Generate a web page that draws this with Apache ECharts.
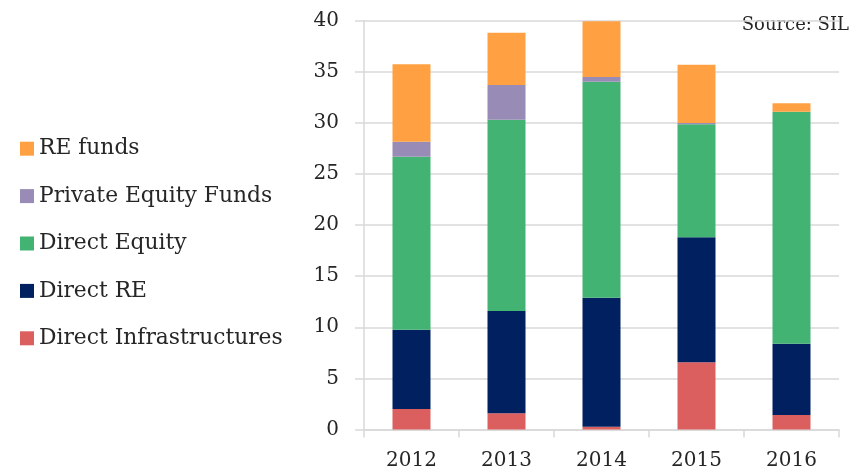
<!DOCTYPE html>
<html>
<head>
<meta charset="utf-8">
<script src="https://cdn.jsdelivr.net/npm/echarts@6/dist/echarts.min.js"></script>
<style>
  html, body { margin: 0; padding: 0; background: #fff; }
  #chart { width: 862px; height: 473px; }
</style>
</head>
<body>
<div id="chart"></div>
<script>
const years = ['2012', '2013', '2014', '2015', '2016']
const directInfra = [2.0, 1.6, 0.27, 6.57, 1.42]
const directRE = [7.76, 10.0, 12.62, 12.23, 6.97]
const directEquity = [16.92, 18.7, 21.12, 11.05, 22.69]
const privateEquityFunds = [1.47, 3.4, 0.46, 0.12, 0]
const reFunds = [7.57, 5.1, 5.45, 5.71, 0.82]

const font = 'DejaVu Serif'
const textColor = '#262626'
const gridColor = '#d9d9d9'

const seriesDefs = [
  { name: 'Direct Infrastructures', data: directInfra, color: '#db5f5f' },
  { name: 'Direct RE', data: directRE, color: '#00205f' },
  { name: 'Direct Equity', data: directEquity, color: '#42b373' },
  { name: 'Private Equity Funds', data: privateEquityFunds, color: '#988cb6' },
  { name: 'RE funds', data: reFunds, color: '#ffa143' },
]

const chart = echarts.init(document.getElementById('chart'))
chart.setOption({
  animation: false,
  textStyle: { fontFamily: font, color: textColor },
  grid: { left: 364, right: 23, top: 20.5, bottom: 43.5 },
  legend: {
    orient: 'vertical',
    left: 20,
    top: 137.7,
    padding: 0,
    itemWidth: 14,
    itemHeight: 14,
    itemGap: 25.4,
    icon: 'rect',
    data: seriesDefs.map((s) => s.name).reverse(),
    textStyle: { fontFamily: font, fontSize: 21.8, color: textColor, lineHeight: 22 },
  },
  graphic: [{
    type: 'text', right: 13, top: 16,
    style: { text: 'Source: SIL', fontFamily: font, fontSize: 18, fill: textColor },
  }],
  xAxis: {
    type: 'category',
    data: years,
    axisLine: { lineStyle: { color: gridColor, width: 1.5 } },
    axisTick: { show: true, length: 8, lineStyle: { color: gridColor, width: 1.5 } },
    axisLabel: { fontFamily: font, fontSize: 20, color: textColor, margin: 21 },
  },
  yAxis: {
    type: 'value',
    min: 0,
    max: 40,
    interval: 5,
    axisLine: { show: true, lineStyle: { color: gridColor, width: 1.5 } },
    axisTick: { show: true, length: 9, lineStyle: { color: gridColor, width: 1.5 } },
    axisLabel: { fontFamily: font, fontSize: 20, color: textColor, margin: 25 },
    splitLine: { lineStyle: { color: gridColor, width: 1.5 } },
  },
  series: seriesDefs.map((s) => ({
    name: s.name,
    type: 'bar',
    stack: 'total',
    barWidth: 38,
    data: s.data,
    itemStyle: { color: s.color },
  })),
})
</script>
</body>
</html>
